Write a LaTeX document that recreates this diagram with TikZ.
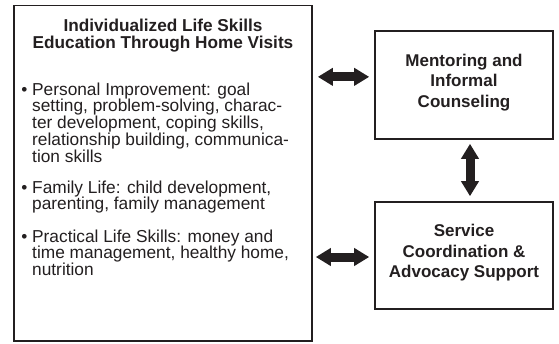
\documentclass[tikz,border=0pt]{standalone}
\usepackage{fontspec}
\setmainfont{Liberation Sans}
\usetikzlibrary{arrows.meta,calc}
\definecolor{ink}{HTML}{231F20}
\tikzset{
  box/.style={draw=ink, line width=1.6pt, inner sep=0pt},
  bodytext/.style={inner sep=0pt, text=ink, align=left, font=\fontsize{17.3}{16.8}\selectfont},
  headtext/.style={inner sep=0pt, text=ink, align=center, font=\bfseries\fontsize{17.2}{17.5}\selectfont},
  sidetext/.style={inner sep=0pt, text=ink, align=center, font=\bfseries\fontsize{17}{20.3}\selectfont},
  bigarrow/.style={draw=ink, line width=9pt, {Triangle[length=15pt,width=17pt]}-{Triangle[length=15pt,width=17pt]}}
}
\begin{document}
\begin{tikzpicture}[x=1pt,y=-1pt]
\useasboundingbox[fill=white] (0,0) rectangle (559,343);
% boxes
\node[box, minimum width=298pt, minimum height=335.5pt] (L) at (163,173.25) {};
\node[box, minimum width=178pt, minimum height=108.3pt] (M) at (464,84.85) {};
\node[box, minimum width=178pt, minimum height=107pt] (S) at (464,255.5) {};
% left texts (base anchor = baseline of last line)
\node[headtext, anchor=base] (title) at (163,48.5) {Individualized Life Skills\\Education Through Home Visits};
\node[bodytext, anchor=base west] (p1) at (32,162.2) {\llap{• }Personal Improvement: goal\\setting, problem-solving, charac-\\ter development, coping skills,\\relationship building, communica-\\tion skills};
\node[bodytext, anchor=base west] (p2) at (32,209.8) {\llap{• }Family Life: child development,\\parenting, family management};
\node[bodytext, anchor=base west] (p3) at (32,275.6) {\llap{• }Practical Life Skills: money and\\time management, healthy home,\\nutrition};
% right texts
\node[sidetext, anchor=base] (mt) at (464,107.1) {Mentoring and\\Informal\\Counseling};
\node[sidetext, anchor=base] (st) at (464,277.3) {Service\\Coordination \&\\Advocacy Support};
% arrows
\coordinate (a1s) at ($(L.east|-M.west)+(5,-8)$);
\coordinate (a1e) at ($(M.west)+(-5,-8)$);
\draw[bigarrow] (a1s) -- (a1e);
\coordinate (a2s) at ($(L.east|-S.west)+(3,1.5)$);
\coordinate (a2e) at ($(S.west)+(-5,1.5)$);
\draw[bigarrow] (a2s) -- (a2e);
\coordinate (a3s) at ($(M.south)+(6,4)$);
\coordinate (a3e) at ($(S.north)+(6,-5)$);
\draw[bigarrow] (a3s) -- (a3e);
\end{tikzpicture}
\end{document}
